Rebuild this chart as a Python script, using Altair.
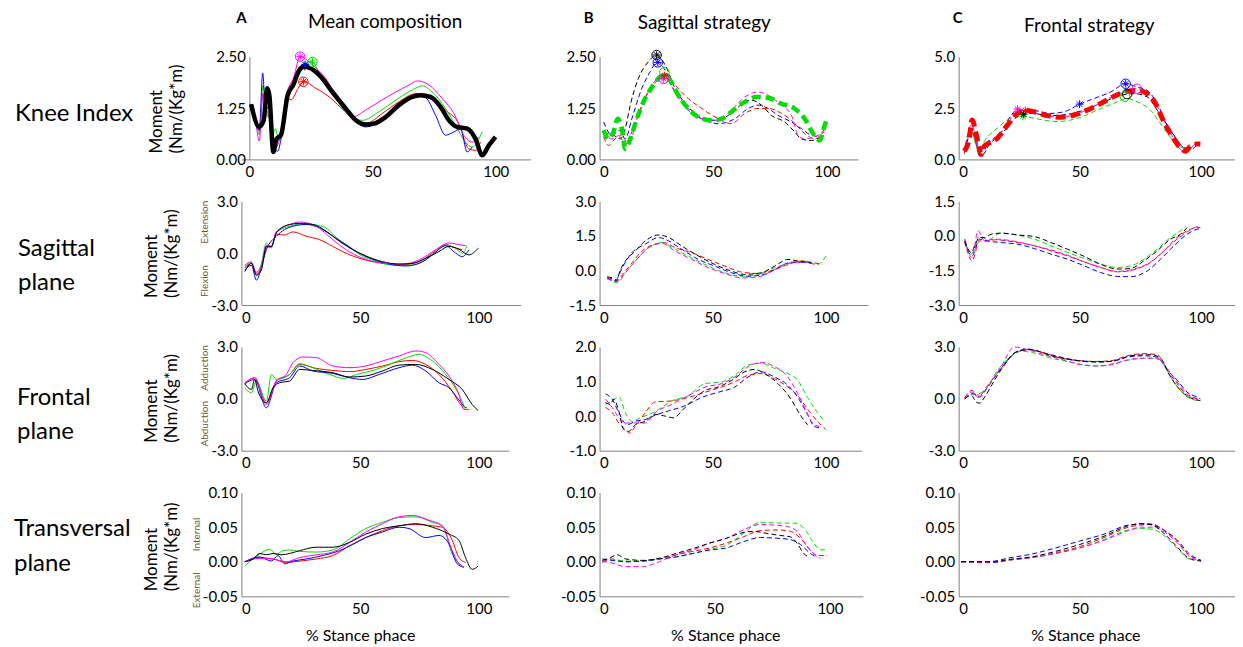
import altair as alt
import pandas as pd

FONT = "Lato"
SERIES = ["r", "g", "b", "m", "k"]
PALETTE = ["#ff0000", "#00dd00", "#0000ff", "#ff00ff", "#000000"]
STAR = "M-1,0L1,0M0,-1L0,1M-0.7,-0.7L0.7,0.7M-0.7,0.7L0.7,-0.7"
NOTE = "#6b5a2e"

# ---------------- Row 1: Knee index ----------------
A1_k = [(0.7,1.34),(4,0.79),(5.8,0.95),(7.2,1.73),(8.1,1.56),(9.7,0.18),(11,0.50),(12.8,0.59),(15.5,1.56),(17.8,1.81),(20.2,2.17),(22.3,2.26),(25,2.21),(29,2.01),(33.7,1.64),(39.1,1.24),(43.2,0.95),(47.2,0.85),(50.6,0.87),(55.3,1.03),(60.7,1.32),(66.1,1.52),(69.5,1.56),(73.5,1.52),(77.6,1.28),(81,0.95),(84.3,0.79),(88.4,0.75),(91.8,0.50),(94.5,0.10),(97.2,0.34),(99.9,0.55)]
A1_r = [(0.5,1.24),(2.5,0.95),(4,0.75),(5.5,1.60),(6.8,1.20),(8.2,1.05),(9.8,0.25),(11.2,0.45),(13,0.65),(15,1.50),(17,1.45),(19.5,1.70),(21.9,1.89),(27,1.73),(32.4,1.52),(39,1.16),(43.2,0.99),(47.2,0.87),(54,1.12),(60.7,1.40),(67.5,1.60),(72.9,1.56),(79.6,1.20),(85,0.87),(89,0.26),(91.8,0.22),(93.8,0.42)]
A1_g = [(0.5,1.30),(2.5,1.00),(4,0.60),(5.5,1.80),(6.8,1.30),(8.2,0.95),(9.5,0.60),(10.5,0.75),(12,0.45),(13.5,0.75),(15.5,1.50),(18,1.80),(21,2.15),(25,2.39),(29,2.05),(35.1,1.48),(40.5,1.07),(45.9,0.95),(52.6,1.16),(59.4,1.44),(66.1,1.69),(70.2,1.79),(74.2,1.64),(79.6,1.24),(83.7,0.83),(87.7,0.42),(90.4,0.30),(94.5,0.67)]
A1_b = [(0.5,1.35),(2.5,1.00),(4,0.70),(5.4,2.10),(6.5,1.20),(8,1.30),(9.8,0.30),(11.5,0.20),(13,0.55),(15.5,1.50),(18,1.85),(20.5,2.20),(22.3,2.34),(28.3,2.01),(35.1,1.48),(41.8,0.99),(47.2,0.79),(52.6,0.91),(60.7,1.32),(67.5,1.55),(71.5,1.50),(75.6,1.07),(79.6,0.59),(83,0.67),(85.7,0.75),(88.4,0.18),(90.4,0.30)]
A1_m = [(0.5,1.20),(2.5,0.90),(4,0.45),(5.5,1.60),(6.8,1.10),(8.2,1.00),(9.8,0.25),(11.5,0.35),(13,0.70),(15,1.55),(18,2.00),(20.6,2.50),(25.6,2.30),(31,1.97),(36.4,1.40),(41.8,1.03),(47.2,1.20),(52.6,1.40),(59.4,1.64),(64.8,1.81),(68.2,1.91),(72.9,1.81),(78.3,1.48),(83,1.12),(87,0.59),(90.4,0.42),(93.1,0.55)]
A1_circles = [("m",20.6,2.50),("g",25.6,2.37),("r",21.9,1.89)]
A1_stars = [("m",20.6,2.50),("g",25.6,2.37),("r",21.9,1.89),("k",22.5,2.26),("b",22.6,2.31)]

B1_g = [(1.8,0.71),(3.9,0.50),(6.1,0.67),(8,0.99),(9.8,0.75),(11.3,0.26),(13.5,0.50),(16.4,0.99),(20,1.48),(23.7,1.81),(26.6,2.01),(28.5,2.05),(31,1.93),(34.6,1.56),(39,1.24),(43.4,1.03),(49.3,0.95),(53.7,0.99),(58,1.16),(63.9,1.40),(69,1.52),(74.1,1.50),(79.8,1.36),(85.7,1.24),(90.2,0.99),(93.9,0.63),(96.8,0.46),(99,0.83),(99.7,0.95)]
B1_k = [(1.8,0.63),(6.1,0.59),(9,0.50),(11.3,0.75),(13.5,1.32),(17.1,1.97),(21.5,2.38),(25.1,2.54),(28.8,2.30),(33.2,1.73),(37.6,1.36),(43.4,1.07),(50.7,0.95),(58,1.12),(63.9,1.40),(66.8,1.44),(71.2,1.32),(75.6,1.07),(81.4,0.91),(85.8,0.67),(88.7,0.50),(93.1,0.46),(97.5,0.55)]
B1_b = [(1.8,0.91),(5.4,0.59),(9,0.71),(11.3,0.50),(14.2,0.99),(18.6,1.73),(22.2,2.13),(25.6,2.38),(28.8,2.17),(33.2,1.64),(39,1.20),(44.9,0.99),(52.2,0.87),(59.5,0.99),(65.4,1.24),(69.7,1.32),(74.1,1.24),(78.5,1.07),(84.4,0.91),(88.7,0.75),(93.1,0.59),(97.5,0.55)]
B1_r = [(1.8,0.55),(3.9,0.34),(6.8,0.50),(9,0.55),(11.3,0.34),(14.2,0.67),(18.6,1.32),(23,1.81),(26.6,2.01),(28.8,2.09),(33.2,1.81),(39,1.48),(44.9,1.24),(52.2,0.99),(58,0.87),(63.9,1.12),(69.7,1.24),(74.1,1.24),(80,1.12),(84.4,0.95),(90.2,0.63),(94.6,0.50),(99,0.75)]
B1_m = [(1.8,0.67),(5.4,0.50),(9,0.59),(12.7,0.42),(17.1,1.07),(21.5,1.64),(25.9,1.93),(28.8,1.97),(33.2,1.64),(39,1.24),(44.9,0.99),(52.2,0.95),(58,1.20),(63.9,1.52),(69.7,1.64),(74.1,1.56),(80,1.32),(84.4,1.07),(87.3,0.59),(90.2,0.50),(94.6,0.55),(99,0.67)]
B1_circles = [("k",25.1,2.54),("b",25.6,2.36),("g",28.5,2.12),("m",28.2,1.96)]
B1_stars = [("k",25.1,2.54),("b",25.6,2.36),("m",28.2,1.96),("r",28.6,2.04)]

C1_r = [(2.3,0.40),(4.4,1.04),(5.5,1.92),(6.7,1.52),(8.1,0.72),(9.2,0.24),(10.6,0.64),(12.6,0.80),(16,1.04),(20.2,1.68),(24.3,2.24),(27,2.40),(31.1,2.32),(36.6,2.13),(42.1,2.05),(47.6,2.16),(53.1,2.40),(58.6,2.72),(64.1,3.07),(69.5,3.31),(73.7,3.36),(77.8,3.20),(81.2,2.72),(84.6,1.84),(88.1,1.12),(91.5,0.56),(93.6,0.40),(95.6,0.64),(98.4,0.75),(99.7,0.75)]
C1_b = [(2.3,0.32),(5.1,1.52),(6.5,1.04),(8.5,0.32),(10.6,0.72),(16,1.12),(24.3,2.40),(29.8,2.40),(38,2.24),(43.5,2.32),(49.9,2.69),(55.8,2.96),(62.7,3.28),(68.9,3.68),(73.7,3.52),(77.8,3.36),(81.9,2.72),(86,1.68),(90.1,0.96),(92.9,0.56),(95.6,0.48),(98.4,0.72)]
C1_g = [(2.3,0.24),(5.1,1.36),(7.1,0.72),(8.5,0.40),(10.6,0.88),(16,1.52),(24.3,2.13),(31.1,2.00),(40.7,1.84),(49,2.00),(57.2,2.40),(65.4,2.80),(69.5,2.96),(73.7,2.80),(79.1,2.40),(84.6,1.52),(90.1,0.72),(92.9,0.56),(95.6,0.75)]
C1_k = [(2.3,0.40),(5.8,1.36),(7.8,0.72),(9.9,0.24),(12.6,0.72),(17.4,1.20),(24.3,2.08),(29.8,2.24),(38,2.13),(44.9,2.19),(51.7,2.40),(59.9,2.80),(66.8,3.12),(72.3,3.20),(77.8,3.04),(81.9,2.40),(86,1.68),(90.1,0.96),(92.9,0.56),(95.6,0.56)]
C1_m = [(2.3,0.30),(5.3,1.70),(6.8,1.20),(8.8,0.30),(10.6,0.60),(16,1.10),(20.2,1.70),(24.3,2.45),(30,2.30),(38,2.10),(45,2.10),(51.7,2.35),(58.6,2.75),(64.1,3.10),(70,3.35),(73.5,3.44),(77.8,3.25),(81.5,2.70),(85,1.80),(88.5,1.05),(92,0.45),(94.5,0.40),(97,0.70),(99.7,0.80)]
C1_circles = [("b",68.9,3.68),("m",73.5,3.44),("g",68.6,3.05),("k",69.5,3.18)]
C1_stars = [("b",49.9,2.69),("m",24.3,2.45),("g",26.5,2.10),("r",27.5,2.38),("k",26.8,2.20),("b",68.9,3.68)]

# ---------------- Row 2: Sagittal plane ----------------
A2_k = [(1.4,-1.07),(4.2,-0.59),(6.3,-1.27),(8.4,-0.98),(10.5,0.39),(12.6,0.39),(14.7,1.17),(20.3,1.66),(24.5,1.72),(30,1.66),(35.7,1.27),(41.3,0.68),(46.9,0.20),(52.4,-0.16),(59.4,-0.49),(66.4,-0.63),(72,-0.59),(77.6,-0.29),(83.2,0.10),(87.4,0.39),(91.6,0.23),(95.8,-0.10),(99.7,0.29)]
A2_g = [(1.4,-0.80),(4.2,-0.55),(6.3,-1.30),(8.4,-0.60),(10.5,0.59),(12.6,0.30),(14.7,1.20),(20.3,1.55),(27,1.70),(35,1.50),(40,0.90),(45,0.40),(50,-0.10),(56,-0.45),(65,-0.70),(70,-0.70),(77,-0.45),(82,0.10),(86,0.45),(90,0.30),(93,0.00),(95,0.45)]
A2_r = [(1.4,-0.85),(4.2,-0.60),(6.3,-1.10),(8.4,-0.70),(10.5,0.35),(12.6,0.35),(14.7,1.10),(18,1.05),(21.7,1.23),(27.3,0.98),(32.9,0.78),(38.5,0.39),(44,0.00),(51,-0.35),(58,-0.55),(66.4,-0.68),(74.8,-0.49),(80.4,0.00),(86,0.49),(90.2,0.29),(93,0.20)]
A2_m = [(1.4,-0.70),(4.2,-0.50),(6.3,-1.20),(8.4,-0.75),(10.5,0.45),(12.6,0.40),(14.7,1.25),(20.3,1.65),(24.5,1.80),(31.5,1.56),(38.5,0.78),(44,0.20),(51,-0.29),(59.4,-0.59),(67.8,-0.63),(74.8,-0.39),(81.8,0.20),(87.4,0.59),(91.6,0.49),(94.4,0.43)]
A2_b = [(1.4,-0.98),(4.2,-0.70),(6.3,-1.56),(8.4,-0.80),(10.5,0.20),(14.7,0.98),(21.7,1.56),(27.3,1.66),(32.9,1.46),(38.5,0.98),(44,0.49),(49.6,0.00),(55.2,-0.35),(62.2,-0.63),(69.2,-0.74),(74.8,-0.59),(80.4,-0.10),(86,0.43),(90.2,0.00),(93,-0.20),(95.8,0.20)]

B2_k = [(3.4,-0.28),(5.6,-0.32),(7.3,-0.47),(9.2,0.04),(11.4,0.41),(15.8,0.84),(20.2,1.28),(26.1,1.54),(30.5,1.43),(36.3,1.06),(43.6,0.63),(50.9,0.26),(58.3,-0.03),(64.1,-0.17),(71.4,-0.10),(77.3,0.19),(83.2,0.48),(87.6,0.41),(93.4,0.33)]
B2_b = [(3.4,-0.32),(7.3,-0.39),(10,0.12),(14.3,0.77),(20.2,1.14),(26.1,1.43),(30.5,1.28),(36.3,0.92),(43.6,0.48),(50.9,0.19),(58.3,-0.10),(65.6,-0.25),(72.9,-0.17),(78.8,0.12),(84.6,0.36),(90.5,0.36),(94.9,0.26)]
B2_r = [(3.4,-0.36),(7.3,-0.47),(10.7,-0.10),(14.3,0.33),(18.7,0.84),(24.6,1.14),(28.3,1.21),(33.4,0.99),(40.7,0.77),(48,0.48),(55.3,0.19),(62.7,-0.07),(70,-0.13),(77.3,0.04),(83.2,0.26),(89,0.41),(94.9,0.33),(98.5,0.26)]
B2_g = [(3.4,-0.28),(7.8,-0.54),(11.4,-0.10),(15.8,0.41),(21.7,0.99),(27.5,1.21),(33.4,0.92),(40.7,0.55),(48,0.19),(55.3,-0.10),(62.7,-0.25),(70,-0.17),(77.3,0.12),(84.6,0.33),(90.5,0.41),(96.3,0.26),(100,0.63)]
B2_m = [(3.4,-0.32),(7.8,-0.47),(11.4,-0.10),(15.8,0.41),(21.7,0.99),(27.5,1.18),(33.4,0.84),(40.7,0.48),(48,0.12),(55.3,-0.13),(62.7,-0.32),(70,-0.28),(77.3,0.04),(84.6,0.33),(90.5,0.36),(94.9,0.26)]

C2_k = [(2.5,-0.22),(5.2,-0.72),(6.6,-0.43),(8.6,-0.07),(10.7,-0.07),(13.4,0.07),(17.5,0.12),(24.4,0.04),(31.2,-0.03),(38.1,-0.29),(44.9,-0.58),(51.8,-0.89),(58.6,-1.23),(65.5,-1.44),(71,-1.41),(76.4,-1.08),(81.9,-0.65),(87.4,-0.14),(91.5,0.07),(94.2,0.36)]
C2_g = [(2.5,-0.14),(5.2,-0.79),(8.6,0.00),(12,-0.17),(17.5,0.12),(24.4,0.03),(31.2,-0.14),(38.1,-0.43),(44.9,-0.72),(51.8,-0.98),(58.6,-1.23),(65.5,-1.37),(71,-1.30),(76.4,-1.01),(81.9,-0.58),(87.4,-0.07),(91.5,0.22),(93.6,0.40)]
C2_r = [(2.5,-0.22),(5.5,-1.08),(8.6,-0.22),(12,-0.22),(14.8,-0.17),(24.4,-0.29),(31.2,-0.43),(38.1,-0.65),(44.9,-0.87),(51.8,-1.13),(58.6,-1.37),(65.5,-1.56),(72.3,-1.47),(79.2,-1.15),(84.7,-0.65),(90.1,-0.07),(94.2,0.22),(98.4,0.36),(99.7,0.36)]
C2_m = [(2.5,-0.14),(5.5,-0.94),(8,0.22),(10.7,-0.22),(14.8,-0.14),(24.4,-0.26),(31.2,-0.43),(38.1,-0.61),(44.9,-0.84),(51.8,-1.13),(58.6,-1.37),(65.5,-1.54),(72.3,-1.44),(79.2,-1.13),(84.7,-0.65),(90.1,-0.14),(94.2,0.17),(98.4,0.40),(99.7,0.43)]
C2_b = [(2.5,-0.29),(5.5,-0.87),(8.6,-0.14),(12,-0.22),(17.5,-0.29),(24.4,-0.36),(31.2,-0.55),(38.1,-0.79),(44.9,-1.01),(51.8,-1.30),(58.6,-1.59),(65.5,-1.76),(71,-1.77),(77.8,-1.52),(83.3,-1.01),(88.8,-0.43),(94.2,0.07),(98.4,0.29),(99.7,0.32)]

# ---------------- Row 3: Frontal plane ----------------
A3_k = [(1.4,0.87),(4.2,0.54),(5.6,1.12),(7,0.44),(10.5,-0.23),(13.3,0.64),(16.1,0.93),(20.3,1.03),(24.5,1.70),(30,1.64),(38.5,1.51),(45.5,1.26),(52.4,1.32),(59.4,1.61),(66.4,1.95),(73.4,1.99),(80.4,1.70),(87.4,1.12),(93,0.54),(97.2,-0.33),(99.7,-0.68)]
A3_m = [(1.4,0.93),(5.6,1.22),(10.5,-0.33),(14.7,1.03),(18.9,1.41),(21.7,2.09),(25.9,2.42),(31.5,2.38),(38.5,1.90),(45.5,1.80),(52.4,1.90),(59.4,2.19),(66.4,2.48),(73.4,2.77),(77.6,2.67),(83.2,1.99),(87.4,1.32),(91.6,0.25),(93.7,-0.62),(95.8,-0.62)]
A3_g = [(1.4,0.64),(4.2,0.35),(6.3,1.03),(10.5,-0.14),(12.6,1.41),(14.7,1.12),(20.3,1.41),(24.5,2.03),(30,1.80),(37.1,1.41),(43,1.18),(48.5,1.41),(55.5,1.64),(62.5,1.99),(69.5,2.38),(74.8,2.57),(80.4,2.19),(86,1.41),(90.9,0.44),(94.4,-0.62)]
A3_r = [(1.4,0.87),(5.6,1.22),(10.5,-0.23),(14.7,1.03),(20.3,1.41),(24.5,1.99),(31.5,1.76),(38.5,1.64),(45.5,1.57),(52.4,1.70),(59.4,1.90),(66.4,2.15),(72,2.22),(77.6,1.99),(83.2,1.41),(88.8,0.44),(93,-0.43),(95.1,-0.52)]
A3_b = [(1.4,0.87),(5.6,1.12),(10.5,-0.52),(14.7,0.93),(20.3,1.22),(24.5,1.90),(30,1.61),(38.5,1.47),(45.5,1.22),(51,1.12),(58,1.41),(66.4,1.80),(72,1.95),(77.6,1.61),(83.2,0.93),(87.4,0.64),(90.9,0.06),(93.7,-0.43)]

B3_k = [(2.6,0.39),(4.8,0.34),(6.3,0.49),(8.5,0.15),(10.7,-0.39),(12.9,-0.44),(15.8,-0.25),(20.2,-0.15),(24.6,0.05),(29,0.00),(32.7,-0.05),(36.3,0.15),(40.7,0.44),(46.6,0.74),(52.4,0.84),(58.3,1.03),(64.1,1.28),(68.5,1.35),(72.9,1.23),(78.8,0.94),(84.6,0.49),(89,0.00),(91.9,-0.25)]
B3_g = [(2.6,0.34),(5.6,0.44),(8.5,0.56),(11.4,0.10),(14.3,-0.15),(18.7,-0.03),(24.6,0.13),(31.9,0.44),(39.2,0.59),(46.6,0.94),(53.9,0.99),(59.7,1.18),(65.6,1.48),(71.4,1.53),(77.3,1.38),(83.2,1.23),(87.6,1.03),(91.9,0.54),(96.3,0.10),(99.3,-0.15)]
B3_r = [(2.6,0.25),(5.6,0.10),(8.5,-0.20),(11.4,-0.39),(13.2,-0.49),(15.8,-0.30),(20.2,0.10),(24.6,0.41),(31.9,0.44),(39.2,0.54),(46.6,0.69),(53.9,0.84),(59.7,0.99),(65.6,1.18),(71.4,1.23),(77.3,1.08),(83.2,0.84),(87.6,0.59),(91.9,0.20),(96.3,-0.15),(100,-0.39)]
B3_b = [(2.6,0.64),(5.6,0.49),(8.5,0.10),(12.2,-0.25),(15.8,-0.15),(20.2,-0.10),(24.6,0.03),(30.5,0.15),(37.8,0.30),(45.1,0.54),(52.4,0.69),(59.7,0.84),(65.6,1.13),(71.4,1.28),(77.3,1.13),(83.2,0.89),(87.6,0.54),(91.9,0.05),(94.9,-0.30),(97.8,-0.34)]
B3_m = [(2.6,0.49),(5.6,0.25),(8.5,-0.05),(11.4,-0.20),(15.8,-0.20),(20.2,-0.20),(24.6,0.10),(31.9,0.34),(39.2,0.59),(46.6,0.84),(53.9,0.94),(59.7,1.13),(65.6,1.43),(71.4,1.55),(77.3,1.43),(83.2,1.13),(87.6,0.64),(91.2,0.15),(94.1,-0.20),(97.1,-0.30)]

C3_k = [(2.5,0.00),(5.2,0.20),(7.3,-0.20),(8.6,-0.25),(10.7,0.10),(14.8,1.08),(18.9,1.96),(24.4,2.75),(29.9,2.84),(38.1,2.49),(44.9,2.29),(51.8,2.16),(58.6,2.12),(65.5,2.25),(71,2.49),(79.2,2.55),(83.3,2.35),(87.4,1.27),(91.5,0.49),(95.6,0.06),(99.7,-0.10)]
C3_g = [(2.5,0.00),(5.2,0.29),(7.9,0.29),(10.7,0.49),(16.2,1.67),(21.6,2.45),(25.8,2.75),(31.2,2.65),(38.1,2.35),(44.9,2.16),(51.8,1.96),(58.6,1.90),(65.5,2.10),(72.3,2.29),(79.2,2.35),(83.3,2.25),(87.4,1.27),(91.5,0.49),(95.6,0.00),(99,-0.10)]
C3_r = [(2.5,0.06),(5.5,0.49),(7.9,0.10),(12,0.78),(17.5,1.76),(23,2.61),(28.5,2.84),(35.3,2.65),(42.2,2.35),(49,2.22),(55.9,2.16),(62.7,2.20),(69.6,2.49),(76.4,2.61),(81.9,2.55),(86,1.67),(90.1,0.88),(94.2,0.20),(98.4,0.00),(99.7,-0.06)]
C3_m = [(2.5,0.00),(5.2,0.39),(8.6,0.20),(12,0.69),(17.5,1.86),(23,3.00),(28.5,2.84),(35.3,2.55),(42.2,2.29),(49,2.02),(55.9,1.90),(62.7,1.96),(69.6,2.25),(76.4,2.35),(81.9,2.35),(86,1.76),(90.1,0.98),(94.2,0.29),(98.4,0.00),(99.7,-0.14)]
C3_b = [(2.5,0.00),(5.9,0.29),(8.6,0.10),(12,0.69),(17.5,1.76),(23,2.65),(28.5,2.88),(35.3,2.65),(42.2,2.41),(49,2.22),(55.9,2.16),(62.7,2.16),(69.6,2.41),(76.4,2.49),(81.9,2.41),(86,1.67),(90.1,1.08),(94.2,0.39),(98.4,0.10),(99.7,0.00)]

# ---------------- Row 4: Transversal plane ----------------
A4_k = [(1.4,0.000),(4.9,0.004),(7.7,0.012),(10.5,0.010),(13.3,0.012),(16.8,0.010),(20.3,0.012),(24.5,0.016),(31.5,0.021),(38.5,0.021),(45.5,0.028),(52.4,0.040),(59.4,0.048),(66.4,0.052),(73.4,0.055),(80.4,0.050),(87.4,0.040),(91.6,0.031),(94.4,0.006),(97.2,-0.011),(99.7,-0.006)]
A4_g = [(1.4,-0.006),(7.7,0.011),(11.9,0.018),(14.7,0.011),(17.5,0.016),(20.3,0.017),(24.5,0.015),(31.5,0.014),(38.5,0.017),(45.5,0.033),(52.4,0.048),(59.4,0.057),(66.4,0.064),(73.4,0.065),(80.4,0.057),(84.6,0.052),(88.8,0.011),(93,-0.006)]
A4_m = [(1.4,0.000),(7.7,0.005),(13.3,0.004),(18.9,0.000),(24.5,0.006),(31.5,0.010),(38.5,0.014),(45.5,0.028),(52.4,0.043),(59.4,0.055),(66.4,0.065),(72,0.067),(79,0.060),(84.6,0.052),(88.8,0.016),(91.6,-0.003),(93.7,-0.007)]
A4_r = [(1.4,0.000),(7.7,0.006),(13.3,0.004),(18.9,-0.001),(24.5,0.001),(31.5,0.004),(38.5,0.009),(45.5,0.023),(52.4,0.035),(59.4,0.045),(66.4,0.052),(73.4,0.054),(80.4,0.052),(84.6,0.050),(88.8,0.031),(91.6,0.006),(94.4,-0.001)]
A4_b = [(1.4,0.000),(7.7,0.007),(12.6,0.001),(15.4,0.009),(18.2,-0.003),(21.7,0.001),(27.3,0.004),(34.3,0.009),(41.3,0.016),(46.9,0.025),(52.4,0.035),(59.4,0.043),(66.4,0.050),(70.6,0.048),(77.6,0.035),(83.2,0.038),(87.4,0.026),(90.9,-0.003),(93.7,-0.008)]

B4_k = [(1.2,0.002),(4.1,0.005),(7.7,0.010),(11.4,0.004),(18.7,0.002),(25.9,0.005),(33.2,0.012),(40.5,0.019),(47.8,0.027),(55.1,0.034),(60.9,0.041),(66.8,0.044),(72.6,0.041),(78.4,0.038),(82.8,0.036),(85.7,0.027),(88.6,0.012),(90.8,0.007)]
B4_m = [(1.2,0.001),(5.5,-0.002),(11.4,-0.007),(18.7,-0.007),(25.9,0.000),(33.2,0.010),(40.5,0.017),(47.8,0.027),(55.1,0.034),(62.4,0.046),(69.7,0.054),(75.5,0.053),(81.3,0.051),(85.7,0.044),(90.1,0.022),(94.5,0.007),(95.9,0.005)]
B4_g = [(1.2,-0.001),(5.5,0.002),(11.4,0.001),(18.7,0.001),(25.9,0.004),(33.2,0.007),(40.5,0.012),(47.8,0.018),(55.1,0.024),(62.4,0.041),(69.7,0.057),(77,0.056),(84.3,0.056),(88.6,0.049),(93,0.027),(95.9,0.017),(98.8,0.018)]
B4_r = [(1.2,0.000),(5.5,0.004),(11.4,0.000),(18.7,0.001),(25.9,0.004),(33.2,0.010),(40.5,0.015),(47.8,0.020),(55.1,0.027),(62.4,0.036),(69.7,0.045),(77,0.046),(82.8,0.044),(87.2,0.034),(91.5,0.017),(94.5,0.009),(98.8,0.009)]
B4_b = [(1.2,0.004),(5.5,0.002),(11.4,0.000),(18.7,0.001),(25.9,0.004),(33.2,0.007),(40.5,0.012),(47.8,0.017),(55.1,0.020),(62.4,0.029),(69.7,0.035),(77,0.034),(82.8,0.032),(87.2,0.025),(91.5,0.012),(94.5,0.006)]

C4_k = [(1,0.000),(10,0.000),(15,0.000),(20,0.003),(30,0.007),(40,0.015),(50,0.025),(60,0.037),(70,0.052),(75,0.055),(80,0.053),(85,0.040),(90,0.022),(95,0.005),(100,0.001)]
C4_b = [(1,0.000),(10,0.000),(15,0.001),(20,0.005),(30,0.011),(40,0.020),(50,0.030),(60,0.040),(70,0.053),(78,0.055),(85,0.045),(90,0.032),(95,0.012),(100,0.002)]
C4_g = [(1,0.000),(10,0.000),(15,-0.001),(20,0.002),(30,0.006),(40,0.012),(50,0.020),(60,0.032),(70,0.046),(75,0.048),(80,0.047),(85,0.037),(90,0.020),(95,0.004),(97,0.002)]
C4_r = [(1,0.000),(10,0.000),(15,-0.001),(20,0.002),(30,0.006),(40,0.013),(50,0.022),(60,0.035),(70,0.050),(75,0.053),(80,0.054),(85,0.045),(90,0.030),(95,0.010),(100,0.002)]
C4_m = [(1,0.000),(10,-0.001),(15,-0.001),(20,0.002),(30,0.006),(40,0.012),(50,0.020),(60,0.031),(70,0.045),(75,0.050),(80,0.050),(85,0.043),(90,0.028),(95,0.008),(100,0.001)]

ONE = pd.DataFrame({"v": [0]})
COLOR = alt.Color("s:N", scale=alt.Scale(domain=SERIES, range=PALETTE), legend=None)


def frame(series):
    rows = []
    for name, pts in series.items():
        for i, (x, y) in enumerate(pts):
            rows.append({"s": name, "x": x, "y": y, "o": i})
    return pd.DataFrame(rows)


def axes(xdom, ydom, yvals, yfmt, xtitle=None, titlex=0, yoffset=0):
    xa = {"values": [0, 50, 100], "labelPadding": 5}
    if xtitle:
        xa.update(title=xtitle, titleFont=FONT, titleFontSize=16, titleFontWeight="normal",
                  titleX=titlex, titleY=39, titleAlign="center", titleBaseline="middle")
    else:
        xa["title"] = None
    ya = {"values": yvals, "labelPadding": 4, "title": None,
          "labelExpr": "replace(format(datum.value, '" + yfmt + "'), '\u2212', '-')"}
    if yoffset:
        ya["offset"] = yoffset
    X = alt.X("x:Q", scale=alt.Scale(domain=xdom, nice=False, zero=False), axis=alt.Axis(**xa))
    Y = alt.Y("y:Q", scale=alt.Scale(domain=ydom, nice=False, zero=False), axis=alt.Axis(**ya))
    return X, Y


def lines(series, X, Y, width=1.0, dash=None):
    kw = {"strokeWidth": width, "interpolate": "monotone"}
    if dash:
        kw["strokeDash"] = dash
    return alt.Chart(frame(series)).mark_line(**kw).encode(
        x=X, y=Y, color=COLOR, detail="s:N", order="o:Q")


def marks(pts, X, Y, shape, size):
    df = pd.DataFrame(pts, columns=["s", "x", "y"])
    return alt.Chart(df).mark_point(shape=shape, filled=False, size=size, strokeWidth=1,
                                    opacity=1).encode(x=X, y=Y, color=COLOR)


def txt(text, x, y, size, angle=0, align="center", color="#000000", weight="normal"):
    kw = {"font": FONT, "fontSize": size, "align": align, "baseline": "middle",
          "color": color, "fontWeight": weight}
    if angle:
        kw["angle"] = angle
    return alt.Chart(ONE).mark_text(**kw).encode(
        x=alt.value(x), y=alt.value(y), text=alt.value(text))


def ytitle(xm, y):
    return [txt("Moment", xm, y, 17, angle=270, align="left"),
            txt("(Nm/(Kg*m)", xm + 20, y, 17, angle=270, align="left")]


DASH = [5, 3]

# ---- Column A ----
X, Y = axes([-3.24, 114.2], [0, 2.5], [0, 1.25, 2.5], ".2f", yoffset=-8)
A1 = alt.layer(
    lines({"r": A1_r, "g": A1_g, "b": A1_b, "m": A1_m}, X, Y),
    lines({"k": A1_k}, X, Y, width=4.5),
    marks(A1_circles, X, Y, "circle", 90),
    marks(A1_stars, X, Y, STAR, 60),
    txt("Knee Index", -227, 57, 24, align="left"),
    *ytitle(-85, 97),
    txt("A", 0, -39, 15, weight="bold"),
    txt("Mean composition", 144, -35, 19),
).properties(width=290, height=103)

X, Y = axes([0, 117.6], [-3, 3], [-3, 0, 3], ".1f")
A2 = alt.layer(
    lines({"r": A2_r, "g": A2_g, "b": A2_b, "m": A2_m, "k": A2_k}, X, Y),
    txt("Sagittal", -224, 48, 24, align="left"),
    txt("plane", -224, 82, 24, align="left"),
    *ytitle(-90, 97),
    txt("Extension", -37, 21, 10, angle=270, color=NOTE),
    txt("Flexion", -37, 80, 10, angle=270, color=NOTE),
).properties(width=280, height=104)

X, Y = axes([0, 112.6], [-3, 3], [-3, 0, 3], ".1f")
A3 = alt.layer(
    lines({"r": A3_r, "g": A3_g, "b": A3_b, "m": A3_m, "k": A3_k}, X, Y),
    txt("Frontal", -225, 51, 24, align="left"),
    txt("plane", -225, 85, 24, align="left"),
    *ytitle(-90, 96),
    txt("Adduction", -37, 21, 10, angle=270, color=NOTE),
    txt("Abduction", -37, 77, 10, angle=270, color=NOTE),
).properties(width=268, height=104)

X, Y = axes([0, 112.6], [-0.05, 0.1], [-0.05, 0, 0.05, 0.1], ".2f",
            xtitle="% Stance phace", titlex=119)
A4 = alt.layer(
    lines({"r": A4_r, "g": A4_g, "b": A4_b, "m": A4_m, "k": A4_k}, X, Y),
    txt("Transversal", -228, 37, 24, align="left"),
    txt("plane", -228, 72, 24, align="left"),
    *ytitle(-90, 99),
    txt("Internal", -45, 42, 10, angle=270, color=NOTE),
    txt("External", -45, 98, 10, angle=270, color=NOTE),
).properties(width=268, height=104)

# ---- Column B ----
X, Y = axes([0, 113.6], [0, 2.5], [0, 1.25, 2.5], ".2f")
B1 = alt.layer(
    lines({"k": B1_k, "b": B1_b, "r": B1_r, "m": B1_m}, X, Y, dash=DASH),
    lines({"g": B1_g}, X, Y, width=4.5, dash=[9, 5]),
    marks(B1_circles, X, Y, "circle", 90),
    marks(B1_stars, X, Y, STAR, 60),
    txt("B", -11, -39, 15, weight="bold"),
    txt("Sagittal strategy", 105, -34, 19),
).properties(width=259, height=103)

X, Y = axes([0, 118.5], [-1.5, 3], [-1.5, 0, 1.5, 3], ".1f")
B2 = alt.layer(lines({"r": B2_r, "g": B2_g, "b": B2_b, "m": B2_m, "k": B2_k}, X, Y, dash=DASH)
               ).properties(width=269, height=104)

X, Y = axes([0, 115.9], [-1, 2], [-1, 0, 1, 2], ".1f")
B3 = alt.layer(lines({"r": B3_r, "g": B3_g, "b": B3_b, "m": B3_m, "k": B3_k}, X, Y, dash=DASH)
               ).properties(width=263, height=104)

X, Y = axes([0, 114.3], [-0.05, 0.1], [-0.05, 0, 0.05, 0.1], ".2f",
            xtitle="% Stance phace", titlex=126)
B4 = alt.layer(lines({"r": B4_r, "g": B4_g, "b": B4_b, "m": B4_m, "k": B4_k}, X, Y, dash=DASH)
               ).properties(width=264, height=104)

# ---- Column C ----
X, Y = axes([0, 114], [0, 5], [0, 2.5, 5], ".1f")
C1 = alt.layer(
    lines({"k": C1_k, "b": C1_b, "g": C1_g, "m": C1_m}, X, Y, dash=DASH),
    lines({"r": C1_r}, X, Y, width=5, dash=[10, 5]),
    marks(C1_circles, X, Y, "circle", 90),
    marks(C1_stars, X, Y, STAR, 60),
    txt("C", -1, -39, 15, weight="bold"),
    txt("Frontal strategy", 131, -31, 19),
).properties(width=277, height=103)

X, Y = axes([0, 114], [-3, 1.5], [-3, -1.5, 0, 1.5], ".1f")
C2 = alt.layer(lines({"r": C2_r, "g": C2_g, "b": C2_b, "m": C2_m, "k": C2_k}, X, Y, dash=DASH)
               ).properties(width=277, height=104)

X, Y = axes([0, 114], [-3, 3], [-3, 0, 3], ".1f")
C3 = alt.layer(lines({"r": C3_r, "g": C3_g, "b": C3_b, "m": C3_m, "k": C3_k}, X, Y, dash=DASH)
               ).properties(width=277, height=104)

X, Y = axes([0, 114], [-0.05, 0.1], [-0.05, 0, 0.05, 0.1], ".2f",
            xtitle="% Stance phace", titlex=127)
C4 = alt.layer(lines({"r": C4_r, "g": C4_g, "b": C4_b, "m": C4_m, "k": C4_k}, X, Y, dash=DASH)
               ).properties(width=277, height=104)

SP = 15
colA = alt.vconcat(A1, A2, A3, A4, spacing=SP)
colB = alt.vconcat(B1, B2, B3, B4, spacing=SP)
colC = alt.vconcat(C1, C2, C3, C4, spacing=SP)

chart = alt.hconcat(colA, alt.hconcat(colB, colC, spacing=51), spacing=29).properties(
    padding={"left": 6, "top": 2, "right": 0, "bottom": 0}
).configure_axis(
    labelFont=FONT, labelFontSize=15, labelColor="#000000", domainColor="#808080",
    domainWidth=1, ticks=False, grid=False, titleColor="#000000"
).configure_view(strokeOpacity=0)

chart.save("out.html", embed_options={"renderer": "svg", "actions": False})
